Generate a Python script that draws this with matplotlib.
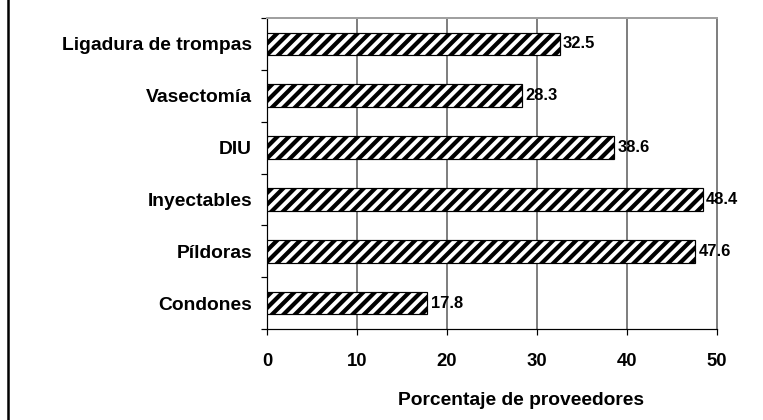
import numpy as np
import matplotlib
matplotlib.use("Agg")
from matplotlib import pyplot as plt
from matplotlib.lines import Line2D

# data
categorias = ['Condones', 'Píldoras', 'Inyectables', 'DIU', 'Vasectomía', 'Ligadura de trompas']
porcentajes = [17.8, 47.6, 48.4, 38.6, 28.3, 32.5]
xticks = [0, 10, 20, 30, 40, 50]

DPI = 69
W, H = 763, 420
def pt(px):
    return px * 72.0 / DPI

plt.rcParams['font.family'] = ['Liberation Sans', 'DejaVu Sans']
plt.rcParams['font.weight'] = 'bold'
plt.rcParams['hatch.linewidth'] = pt(4.2)
plt.rcParams['hatch.color'] = 'black'

fig = plt.figure(figsize=(W / DPI, H / DPI), dpi=DPI)
# axes in pixel box: left 267, right 717, top 18, bottom 329
ax = fig.add_axes([267 / W, 1 - 329 / H, (717 - 267) / W, (329 - 18) / H])

ypos = np.arange(len(categorias)) + 0.5
ax.barh(ypos, porcentajes, height=0.44, color='white', edgecolor='black',
        linewidth=pt(1.2), hatch='//', zorder=3)

for y, v in zip(ypos, porcentajes):
    ax.text(v + 0.4, y, f'{v:.1f}', va='center', ha='left',
            fontsize=pt(16.5), fontweight='bold', zorder=4)

ax.set_xlim(0, 50)
ax.set_ylim(0, 6)
ax.set_xticks(xticks)
ax.set_xticklabels([str(t) for t in xticks], fontsize=pt(18.5), fontweight='bold')
ax.set_yticks(ypos)
ax.set_yticklabels(categorias, fontsize=pt(19.3), fontweight='bold')
ax.set_yticks(np.arange(0, 7), minor=True)
ax.tick_params(axis='y', which='major', length=0, pad=pt(15))
ax.tick_params(axis='y', which='minor', length=pt(6), width=pt(1.2), direction='out')
ax.tick_params(axis='x', which='major', length=pt(6), width=pt(1.2), direction='out',
               pad=pt(18), colors='black')

ax.grid(axis='x', color='#808080', linewidth=pt(2), zorder=0)
ax.set_axisbelow(True)

ax.spines['left'].set_color('black')
ax.spines['left'].set_linewidth(pt(1.2))
ax.spines['bottom'].set_color('black')
ax.spines['bottom'].set_linewidth(pt(1.2))
ax.spines['top'].set_color('#a0a0a0')
ax.spines['top'].set_linewidth(pt(2))
ax.spines['right'].set_color('#808080')
ax.spines['right'].set_linewidth(pt(2))

ax.set_xlabel('Porcentaje de proveedores', fontsize=pt(19.3), fontweight='bold')
ax.xaxis.set_label_coords((521 - 267) / 450, 1 - (392 - 18) / 311)

# left border line of the frame
fig.add_artist(Line2D([8 / W, 8 / W], [0, 1], color='black', linewidth=pt(2.5)))

fig.savefig('out.png', dpi=DPI)
